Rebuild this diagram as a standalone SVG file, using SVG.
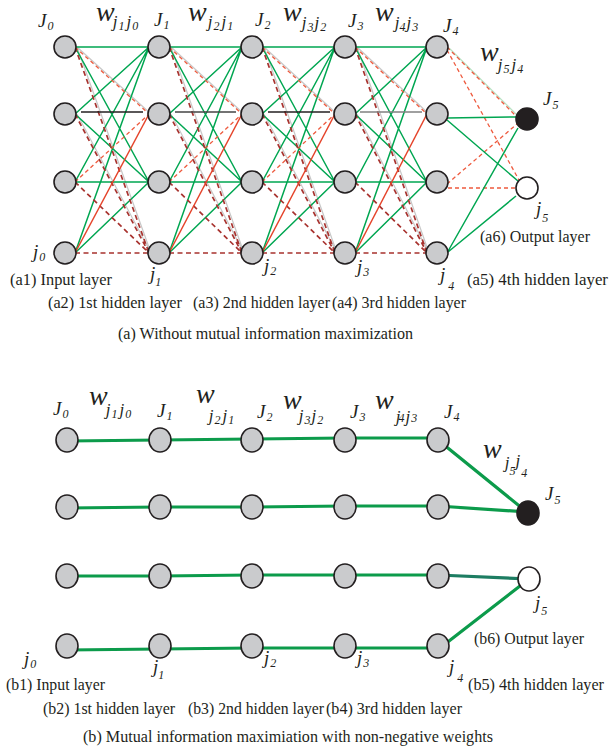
<svg xmlns="http://www.w3.org/2000/svg" width="609" height="751" viewBox="0 0 609 751">
<style>
.nd{fill:#cacbcd;stroke:#231f20;stroke-width:1.6}
.out{fill:#231f20;stroke:#231f20;stroke-width:1.6}
.wh{fill:#ffffff;stroke:#231f20;stroke-width:1.6}
.g{stroke:#00a651;stroke-width:1.5;fill:none}
.gb{stroke:#0c9b4b;stroke-width:3.2;fill:none;stroke-linecap:round}
.tl{stroke:#1d7d62;stroke-width:3.2;fill:none}
.rs{stroke:#e5432a;stroke-width:1.5;fill:none}
.rd{stroke:#ee5a3e;stroke-width:1.3;stroke-dasharray:4 3;fill:none}
.dd{stroke:#a8322e;stroke-width:1.7;stroke-dasharray:5 3.5;fill:none}
.gy{stroke:#c8c8c8;stroke-width:1.2;fill:none}
.lg{stroke:#b9e2c4;stroke-width:1.3;fill:none}
.bk{stroke:#231f20;stroke-width:1.4;fill:none}
.m{font-style:italic;fill:#231f20}
.J{font-size:19px}
.W{font-size:28px}
.s{font-size:17px}
.d{font-size:12px}
.t{font-size:17px;fill:#231f20}
</style>

<g id="connectors">
  <path class="gy" d="M77,47L151,114M77,47L151,253M77,114L151,253"/>
  <path class="g" d="M75,47L149,47M75,47L149,182M75,114L149,47M75,114L149,182M75,182L149,47M75,182L149,182M75,253L149,47M75,253L149,182"/>
  <path class="rd" d="M75,47L149,114M75,182L149,114"/>
  <path class="dd" d="M75,47L149,253M75,114L149,253M75,182L149,253M75,253L149,253"/>
  <path class="rs" d="M75,253L149,114"/>
  <path class="bk" d="M81,112L143,112"/>
  <path class="gy" d="M171,47L244,114M171,47L244,253M171,114L244,253"/>
  <path class="g" d="M169,47L242,47M169,47L242,182M169,114L242,47M169,114L242,182M169,182L242,47M169,182L242,182M169,253L242,47M169,253L242,182"/>
  <path class="rd" d="M169,47L242,114M169,182L242,114"/>
  <path class="dd" d="M169,47L242,253M169,114L242,253M169,182L242,253M169,253L242,253"/>
  <path class="rs" d="M169,253L242,114"/>
  <path class="bk" d="M175,112L236,112" style="stroke:#444"/>
  <path class="gy" d="M264,47L337,114M264,47L337,253M264,114L337,253"/>
  <path class="g" d="M262,47L335,47M262,47L335,182M262,114L335,47M262,114L335,182M262,182L335,47M262,182L335,182M262,253L335,47M262,253L335,182"/>
  <path class="rd" d="M262,47L335,114M262,182L335,114"/>
  <path class="dd" d="M262,47L335,253M262,114L335,253M262,182L335,253M262,253L335,253"/>
  <path class="rs" d="M262,253L335,114"/>
  <path class="bk" d="M268,112L330,112"/>
  <path class="gy" d="M357,47L429,114M357,47L429,253M357,114L429,253"/>
  <path class="g" d="M355,47L427,47M355,47L427,182M355,114L427,47M355,114L427,182M355,182L427,47M355,182L427,182M355,253L427,47M355,253L427,182"/>
  <path class="rd" d="M355,47L427,114"/>
  <path class="dd" d="M355,47L427,253M355,114L427,253M355,182L427,253M355,253L427,253"/>
  <path class="rs" d="M355,253L427,114"/>
  <path class="bk" d="M360,112L422,112" style="stroke:#808080;stroke-width:1.6"/>
  <path class="lg" d="M449,48L518,116"/>
  <path class="rd" d="M447,47L516,116M447,50L519,180M447,184L517,124M448,188L516,188"/>
  <path class="g" d="M447,118L516,117M447,120L518,181M447,253L518,128M448,252L516,196"/>

  <path class="gb" d="M67,441L160,440L252,439L345,438L438,438M438,440L528,513"/>
  <path class="gb" d="M67,508L160,507L252,507L345,506L438,506L528,512"/>
  <path class="gb" d="M67,576L160,576L252,575L345,575L438,575"/>
  <path class="tl" d="M438,575L529,579"/>
  <path class="gb" d="M67,650L160,649L252,648L345,648L438,648M440,648L529,579"/>
</g>

<g id="a-L0-0"><circle class="nd" cx="65" cy="47" r="11"/></g>
<g id="a-L0-1"><circle class="nd" cx="65" cy="114" r="11"/></g>
<g id="a-L0-2"><circle class="nd" cx="65" cy="182" r="11"/></g>
<g id="a-L0-3"><circle class="nd" cx="65" cy="253" r="11"/></g>
<g id="a-L1-0"><circle class="nd" cx="159" cy="47" r="11"/></g>
<g id="a-L1-1"><circle class="nd" cx="159" cy="114" r="11"/></g>
<g id="a-L1-2"><circle class="nd" cx="159" cy="182" r="11"/></g>
<g id="a-L1-3"><circle class="nd" cx="159" cy="253" r="11"/></g>
<g id="a-L2-0"><circle class="nd" cx="252" cy="47" r="11"/></g>
<g id="a-L2-1"><circle class="nd" cx="252" cy="114" r="11"/></g>
<g id="a-L2-2"><circle class="nd" cx="252" cy="182" r="11"/></g>
<g id="a-L2-3"><circle class="nd" cx="252" cy="253" r="11"/></g>
<g id="a-L3-0"><circle class="nd" cx="345" cy="47" r="11"/></g>
<g id="a-L3-1"><circle class="nd" cx="345" cy="114" r="11"/></g>
<g id="a-L3-2"><circle class="nd" cx="345" cy="182" r="11"/></g>
<g id="a-L3-3"><circle class="nd" cx="345" cy="253" r="11"/></g>
<g id="a-L4-0"><circle class="nd" cx="437" cy="47" r="11"/></g>
<g id="a-L4-1"><circle class="nd" cx="437" cy="114" r="11"/></g>
<g id="a-L4-2"><circle class="nd" cx="437" cy="182" r="11"/></g>
<g id="a-L4-3"><circle class="nd" cx="437" cy="253" r="11"/></g>
<g id="a-L5-0"><circle class="out" cx="527" cy="119" r="11"/></g>
<g id="a-L5-1"><circle class="wh" cx="527" cy="188" r="11"/></g>

<g id="b-L0-0"><ellipse class="nd" cx="67" cy="440" rx="11" ry="12"/></g>
<g id="b-L0-1"><ellipse class="nd" cx="67" cy="507" rx="11" ry="12"/></g>
<g id="b-L0-2"><ellipse class="nd" cx="67" cy="576" rx="11" ry="12"/></g>
<g id="b-L0-3"><ellipse class="nd" cx="67" cy="646" rx="11" ry="12"/></g>
<g id="b-L1-0"><ellipse class="nd" cx="160" cy="440" rx="11" ry="12"/></g>
<g id="b-L1-1"><ellipse class="nd" cx="160" cy="507" rx="11" ry="12"/></g>
<g id="b-L1-2"><ellipse class="nd" cx="160" cy="576" rx="11" ry="12"/></g>
<g id="b-L1-3"><ellipse class="nd" cx="160" cy="646" rx="11" ry="12"/></g>
<g id="b-L2-0"><ellipse class="nd" cx="252" cy="440" rx="11" ry="12"/></g>
<g id="b-L2-1"><ellipse class="nd" cx="252" cy="507" rx="11" ry="12"/></g>
<g id="b-L2-2"><ellipse class="nd" cx="252" cy="576" rx="11" ry="12"/></g>
<g id="b-L2-3"><ellipse class="nd" cx="252" cy="646" rx="11" ry="12"/></g>
<g id="b-L3-0"><ellipse class="nd" cx="345" cy="440" rx="11" ry="12"/></g>
<g id="b-L3-1"><ellipse class="nd" cx="345" cy="507" rx="11" ry="12"/></g>
<g id="b-L3-2"><ellipse class="nd" cx="345" cy="576" rx="11" ry="12"/></g>
<g id="b-L3-3"><ellipse class="nd" cx="345" cy="646" rx="11" ry="12"/></g>
<g id="b-L4-0"><ellipse class="nd" cx="438" cy="440" rx="11" ry="12"/></g>
<g id="b-L4-1"><ellipse class="nd" cx="438" cy="507" rx="11" ry="12"/></g>
<g id="b-L4-2"><ellipse class="nd" cx="438" cy="576" rx="11" ry="12"/></g>
<g id="b-L4-3"><ellipse class="nd" cx="438" cy="646" rx="11" ry="12"/></g>
<g id="b-L5-0"><ellipse class="out" cx="528" cy="513" rx="11" ry="12"/></g>
<g id="b-L5-1"><ellipse class="wh" cx="529" cy="579" rx="11" ry="12"/></g>

<g id="a-labels" font-family="'Liberation Serif', 'Times New Roman', serif">
  <text class="m J" x="38" y="27">J<tspan class="d" dy="3" dx="1">0</tspan></text>
  <text class="m W" x="96" y="21">w<tspan class="s" dx="-2" dy="6">j</tspan><tspan class="d" dx="1" dy="3">1</tspan><tspan class="s" dx="2" dy="-3">j</tspan><tspan class="d" dx="1" dy="3">0</tspan></text>
  <text class="m J" x="154" y="26">J<tspan class="d" dy="3" dx="1">1</tspan></text>
  <text class="m W" x="188" y="21">w<tspan class="s" dx="1" dy="6">j</tspan><tspan class="d" dx="1" dy="3">2</tspan><tspan class="s" dx="2" dy="-3">j</tspan><tspan class="d" dx="1" dy="3">1</tspan></text>
  <text class="m J" x="255" y="26">J<tspan class="d" dy="3" dx="1">2</tspan></text>
  <text class="m W" x="283" y="21">w<tspan class="s" dx="0" dy="7">j</tspan><tspan class="d" dx="1" dy="3">3</tspan><tspan class="s" dx="1" dy="-3">j</tspan><tspan class="d" dx="1" dy="3">2</tspan></text>
  <text class="m J" x="348" y="27">J<tspan class="d" dy="3" dx="1">3</tspan></text>
  <text class="m W" x="375" y="21">w<tspan class="s" dx="1" dy="7">j</tspan><tspan class="d" dx="0" dy="3">4</tspan><tspan class="s" dx="1" dy="-3">j</tspan><tspan class="d" dx="1" dy="3">3</tspan></text>
  <text class="m J" x="443" y="32">J<tspan class="d" dy="3" dx="1">4</tspan></text>
  <text class="m W" x="480" y="61">w<tspan class="s" dx="-1" dy="9">j</tspan><tspan class="d" dx="1" dy="3">5</tspan><tspan class="s" dx="2" dy="-3">j</tspan><tspan class="d" dx="1" dy="3">4</tspan></text>
  <text class="m J" x="543" y="105">J<tspan class="d" dy="4" dx="1">5</tspan></text>
  <text class="m J" x="536" y="215">j<tspan class="d" dy="7" dx="1">5</tspan></text>
  <text class="m J" x="33" y="258">j<tspan class="d" dy="3" dx="1">0</tspan></text>
  <text class="m J" x="150" y="280">j<tspan class="d" dy="6">1</tspan></text>
  <text class="m J" x="264" y="272">j<tspan class="d" dy="3" dx="1">2</tspan></text>
  <text class="m J" x="357" y="273">j<tspan class="d" dy="3" dx="1">3</tspan></text>
  <text class="m J" x="440" y="281">j<tspan class="d" dy="9" dx="3">4</tspan></text>
  <text class="t" x="480" y="242" textLength="110" lengthAdjust="spacingAndGlyphs">(a6) Output layer</text>
  <text class="t" x="10" y="285" textLength="102" lengthAdjust="spacingAndGlyphs">(a1) Input layer</text>
  <text class="t" x="467" y="285" textLength="141" lengthAdjust="spacingAndGlyphs">(a5) 4th hidden layer</text>
  <text class="t" x="48" y="308" textLength="134" lengthAdjust="spacingAndGlyphs">(a2) 1st hidden layer</text>
  <text class="t" x="193" y="308" textLength="137" lengthAdjust="spacingAndGlyphs">(a3) 2nd hidden layer</text>
  <text class="t" x="332" y="308" textLength="134" lengthAdjust="spacingAndGlyphs">(a4) 3rd hidden layer</text>
  <text class="t" x="118" y="339" textLength="295" lengthAdjust="spacingAndGlyphs">(a) Without mutual information maximization</text>
</g>

<g id="b-labels" font-family="'Liberation Serif', 'Times New Roman', serif">
  <text class="m J" x="53" y="415">J<tspan class="d" dy="3" dx="1">0</tspan></text>
  <text class="m W" x="89" y="405">w<tspan class="s" dx="-2" dy="10">j</tspan><tspan class="d" dx="1" dy="3">1</tspan><tspan class="s" dx="2" dy="-3">j</tspan><tspan class="d" dx="1" dy="3">0</tspan></text>
  <text class="m J" x="157" y="417">J<tspan class="d" dy="3" dx="1">1</tspan></text>
  <text class="m W" x="196" y="403">w<tspan class="s" dx="-6" dy="18">j</tspan><tspan class="d" dx="1" dy="3">2</tspan><tspan class="s" dx="2" dy="-3">j</tspan><tspan class="d" dx="1" dy="3">1</tspan></text>
  <text class="m J" x="257" y="418">J<tspan class="d" dy="3" dx="1">2</tspan></text>
  <text class="m W" x="283" y="409">w<tspan class="s" dx="-3" dy="12">j</tspan><tspan class="d" dx="1" dy="3">3</tspan><tspan class="s" dx="1" dy="-3">j</tspan><tspan class="d" dx="1" dy="3">2</tspan></text>
  <text class="m J" x="350" y="418">J<tspan class="d" dy="3" dx="1">3</tspan></text>
  <text class="m W" x="375" y="409">w<tspan class="s" dx="2" dy="13">j</tspan><tspan class="d" dx="-2">4</tspan><tspan class="s" dx="1">j</tspan><tspan class="d" dx="1">3</tspan></text>
  <text class="m J" x="444" y="418">J<tspan class="d" dy="3" dx="1">4</tspan></text>
  <text class="m W" x="483" y="458">w<tspan class="s" dx="3" dy="10">j</tspan><tspan class="d" dx="0" dy="7">5</tspan><tspan class="s" dx="0" dy="-9">j</tspan><tspan class="d" dx="1" dy="11">4</tspan></text>
  <text class="m J" x="545" y="500">J<tspan class="d" dy="4" dx="1">5</tspan></text>
  <text class="m J" x="535" y="609">j<tspan class="d" dy="6" dx="1">5</tspan></text>
  <text class="m J" x="24" y="665">j<tspan class="d" dy="3" dx="1">0</tspan></text>
  <text class="m J" x="153" y="673">j<tspan class="d" dy="6">1</tspan></text>
  <text class="m J" x="264" y="664">j<tspan class="d" dy="3" dx="1">2</tspan></text>
  <text class="m J" x="357" y="664">j<tspan class="d" dy="3" dx="1">3</tspan></text>
  <text class="m J" x="449" y="673">j<tspan class="d" dy="9" dx="3">4</tspan></text>
  <text class="t" x="474" y="644" textLength="110" lengthAdjust="spacingAndGlyphs">(b6) Output layer</text>
  <text class="t" x="6" y="690" textLength="99" lengthAdjust="spacingAndGlyphs">(b1) Input layer</text>
  <text class="t" x="468" y="690" textLength="136" lengthAdjust="spacingAndGlyphs">(b5) 4th hidden layer</text>
  <text class="t" x="43" y="714" textLength="132" lengthAdjust="spacingAndGlyphs">(b2) 1st hidden layer</text>
  <text class="t" x="188" y="714" textLength="136" lengthAdjust="spacingAndGlyphs">(b3) 2nd hidden layer</text>
  <text class="t" x="326" y="714" textLength="136" lengthAdjust="spacingAndGlyphs">(b4) 3rd hidden layer</text>
  <text class="t" x="83" y="742" textLength="410" lengthAdjust="spacingAndGlyphs">(b) Mutual information maximiation with non-negative weights</text>
</g>
</svg>
